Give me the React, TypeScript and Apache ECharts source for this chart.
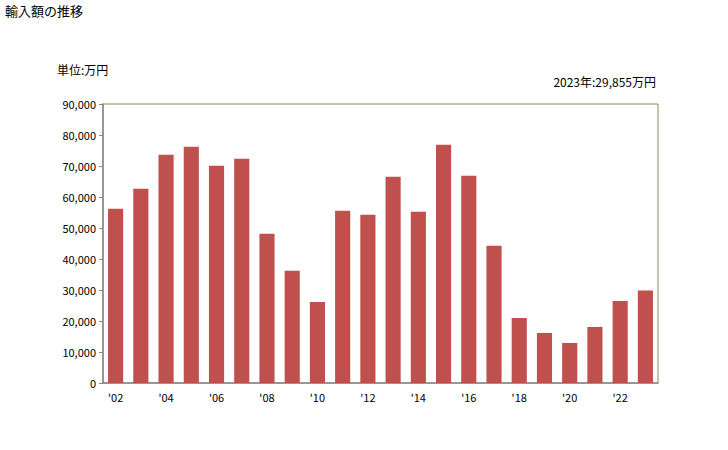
import React, { useEffect, useRef } from "react";
import * as echarts from "echarts";

const years = ["'02","'03","'04","'05","'06","'07","'08","'09","'10","'11","'12","'13","'14","'15","'16","'17","'18","'19","'20","'21","'22","'23"];
const values = [56190, 62650, 73630, 76210, 70070, 72340, 48120, 36170, 26160, 55540, 54250, 66520, 55220, 76860, 66850, 44240, 20990, 16150, 12920, 18080, 26480, 29855];
const title = "輸入額の推移";
const unitLabel = "単位:万円";
const latestLabel = "2023年:29,855万円";

export default function App() {
  const ref = useRef<HTMLDivElement>(null);
  useEffect(() => {
    if (!ref.current) return;
    const chart = echarts.init(ref.current, null, { renderer: "svg" });
    const font = "'Noto Sans CJK JP', 'Noto Sans', sans-serif";
    chart.setOption({
      animation: false,
      textStyle: { fontFamily: font },
      graphic: [
        { type: "text", left: 5, top: 4, style: { text: title, fontSize: 13, fill: "#000", fontFamily: font } },
        { type: "text", left: 57, top: 63, style: { text: unitLabel, fontSize: 12, fill: "#000", fontFamily: font } },
        { type: "text", right: 72, top: 75, style: { text: latestLabel, fontSize: 12, fill: "#000", fontFamily: font } },
      ],
      grid: { left: 103, right: 70, top: 104, bottom: 67, show: true, borderColor: "#8c8c50", borderWidth: 1, backgroundColor: "transparent" },
      xAxis: {
        type: "category",
        data: years,
        axisLine: { show: true, lineStyle: { color: "#888", width: 1.5 } },
        axisTick: { show: false },
        axisLabel: { interval: 1, color: "#000", fontSize: 11, margin: 8, fontFamily: font },
      },
      yAxis: {
        type: "value",
        min: 0,
        max: 90000,
        interval: 10000,
        axisLine: { show: true, lineStyle: { color: "#888", width: 1.5 } },
        axisTick: { show: true, length: 4, lineStyle: { color: "#888" } },
        splitLine: { show: false },
        axisLabel: {
          color: "#000",
          fontSize: 11,
          margin: 7,
          fontFamily: font,
          formatter: (v: number) => v.toLocaleString("en-US"),
        },
      },
      series: [
        {
          type: "bar",
          data: values,
          barWidth: "60%",
          itemStyle: { color: "#c0504d" },
        },
      ],
    });
    return () => chart.dispose();
  }, []);
  return <div ref={ref} style={{ position: "absolute", left: 0, top: 0, width: 728, height: 450 }} />;
}
